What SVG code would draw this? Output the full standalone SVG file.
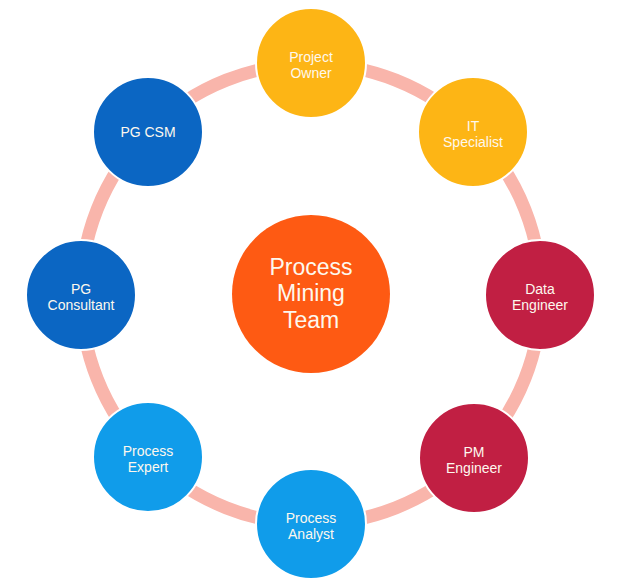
<svg xmlns="http://www.w3.org/2000/svg" width="630" height="588" viewBox="0 0 630 588">
<style>
.node{stroke:#ffffff;stroke-width:2}
.t{font-family:"Liberation Sans",Arial,sans-serif;font-size:14px;fill:#fdf8ee;text-anchor:middle}
.tc{font-family:"Liberation Sans",Arial,sans-serif;font-size:23px;fill:#fdf8ee;text-anchor:middle}
.amber{fill:#fdb515}
.red{fill:#c11f43}
.lblue{fill:#109cea}
.dblue{fill:#0b66c3}
</style>
<rect width="630" height="588" fill="#ffffff"/>
<g id="connectors">
<circle cx="311" cy="294" r="230" fill="none" stroke="#f9b5ab" stroke-width="13"/>
</g>
<g id="center">
<circle cx="311" cy="294" r="79" fill="#fe5a13"/>
<text class="tc" x="311" y="275">Process</text>
<text class="tc" x="311" y="301">Mining</text>
<text class="tc" x="311" y="328">Team</text>
</g>
<g id="project-owner">
<circle class="node amber" cx="311" cy="63" r="55"/>
<text class="t" x="311" y="62">Project</text>
<text class="t" x="311" y="78">Owner</text>
</g>
<g id="it-specialist">
<circle class="node amber" cx="473" cy="132" r="55"/>
<text class="t" x="473" y="131">IT</text>
<text class="t" x="473" y="147">Specialist</text>
</g>
<g id="data-engineer">
<circle class="node red" cx="540" cy="295" r="55"/>
<text class="t" x="540" y="294">Data</text>
<text class="t" x="540" y="310">Engineer</text>
</g>
<g id="pm-engineer">
<circle class="node red" cx="474" cy="458" r="55"/>
<text class="t" x="474" y="457">PM</text>
<text class="t" x="474" y="473">Engineer</text>
</g>
<g id="process-analyst">
<circle class="node lblue" cx="311" cy="524" r="55"/>
<text class="t" x="311" y="523">Process</text>
<text class="t" x="311" y="539">Analyst</text>
</g>
<g id="process-expert">
<circle class="node lblue" cx="148" cy="457" r="55"/>
<text class="t" x="148" y="456">Process</text>
<text class="t" x="148" y="472">Expert</text>
</g>
<g id="pg-consultant">
<circle class="node dblue" cx="81" cy="295" r="55"/>
<text class="t" x="81" y="294">PG</text>
<text class="t" x="81" y="310">Consultant</text>
</g>
<g id="pg-csm">
<circle class="node dblue" cx="148" cy="132" r="55"/>
<text class="t" x="148" y="137">PG CSM</text>
</g>
</svg>
